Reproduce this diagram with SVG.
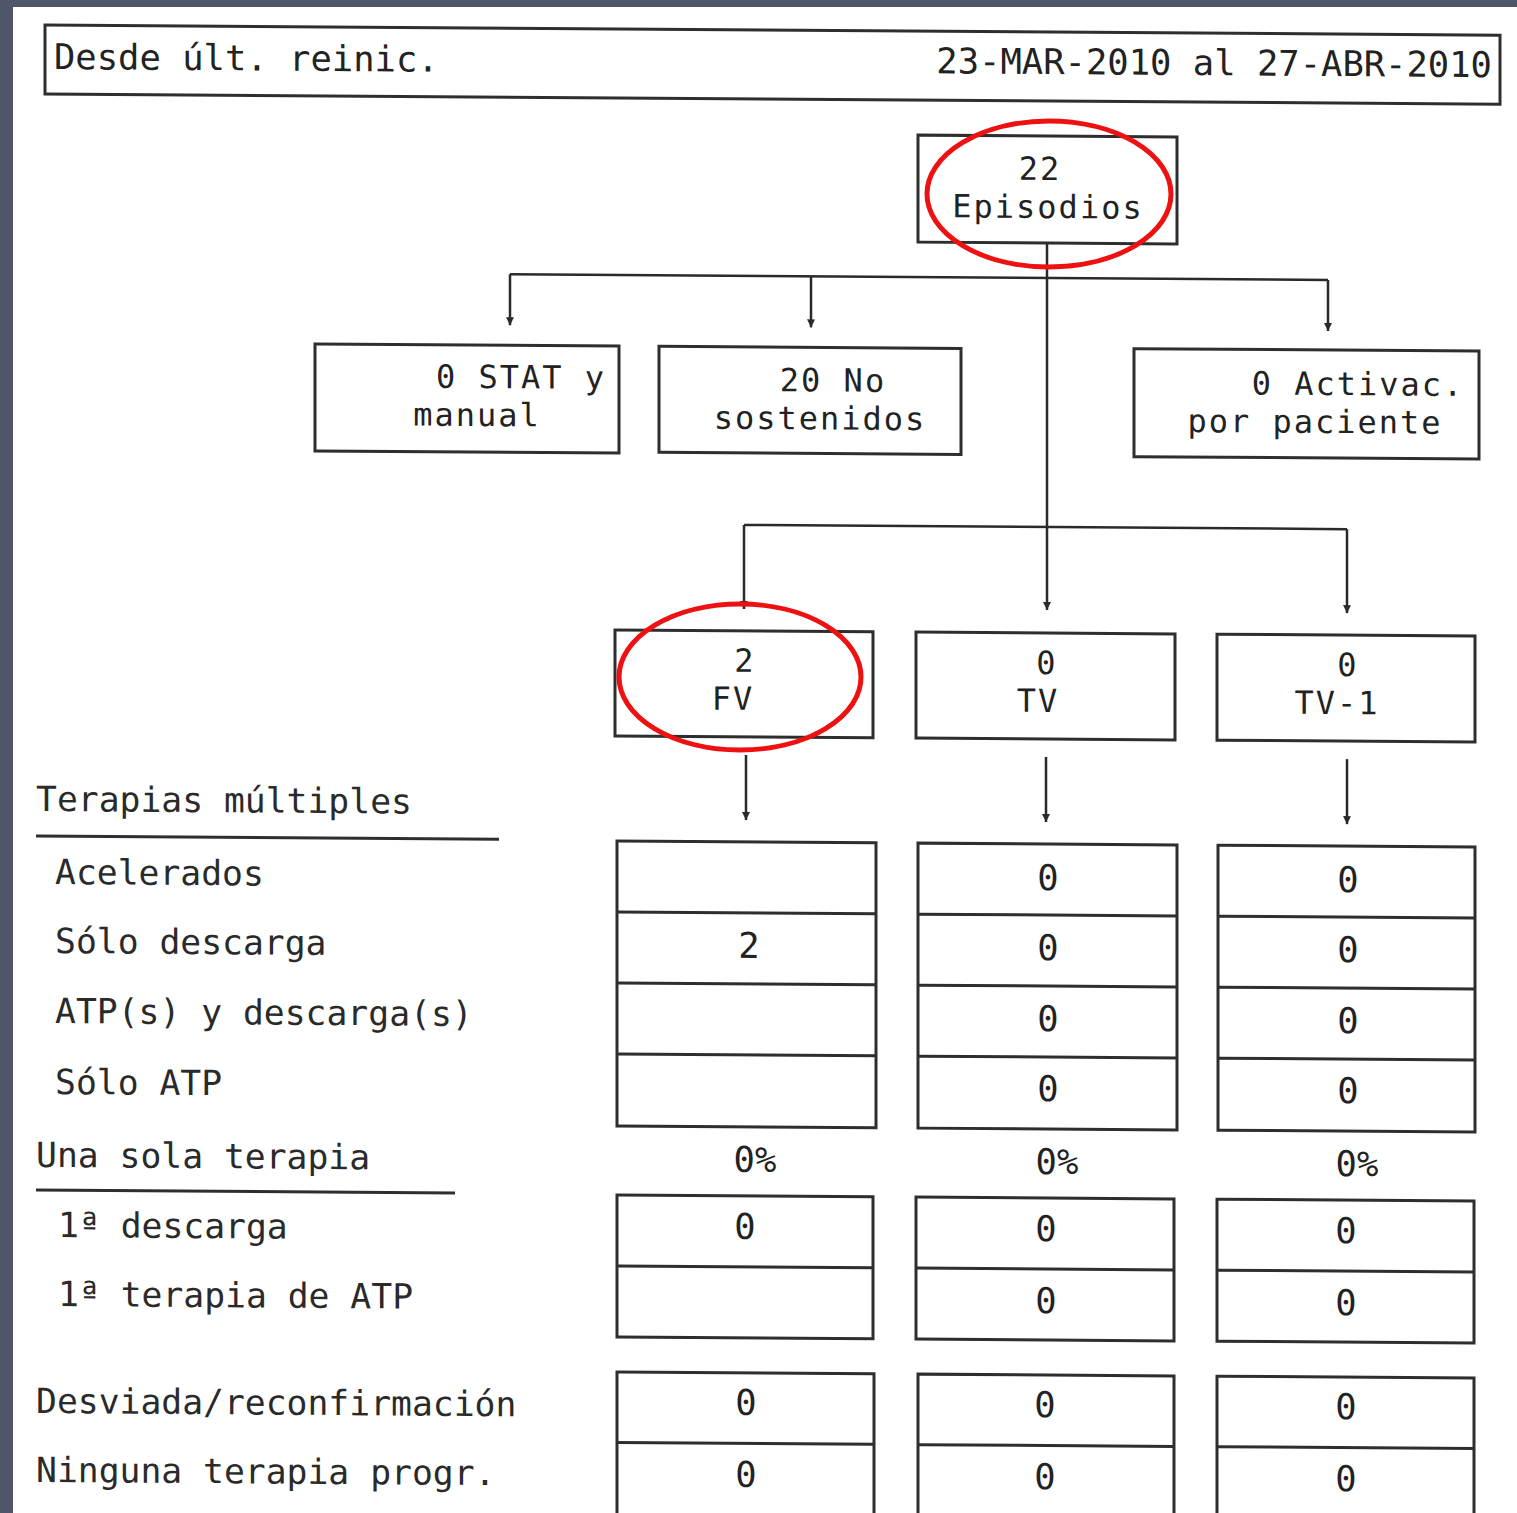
<svg xmlns="http://www.w3.org/2000/svg" width="1517" height="1513" viewBox="0 0 1517 1513">
<style>
.bx{fill:none;stroke:#2e2e2e;stroke-width:3}
.dv{stroke:#2e2e2e;stroke-width:3}
.cn{fill:none;stroke:#2a2a2a;stroke-width:2.5}
.t{font-family:"DejaVu Sans Mono","Liberation Mono",monospace;font-size:35.5px;fill:#222}
.n{font-family:"DejaVu Sans Mono","Liberation Mono",monospace;font-size:32px;letter-spacing:2px;fill:#222;text-anchor:middle}
.m{text-anchor:middle}
.e{text-anchor:end}
.lb{font-family:"DejaVu Sans Mono","Liberation Mono",monospace;font-size:34.7px;fill:#2a2a2a}
.ring{fill:none;stroke:#ee1111;stroke-width:5}
</style>
<defs>
<marker id="ah" viewBox="-1 -5 10 10" markerWidth="10" markerHeight="10" refX="8" refY="0" orient="auto" markerUnits="userSpaceOnUse">
<path d="M0,-4 L8,0 L0,4 z" fill="#2a2a2a"/>
</marker>
</defs>
<rect x="0" y="0" width="1517" height="1513" fill="#50566a"/>
<rect x="13" y="7" width="1504" height="1506" fill="#ffffff"/>
<g transform="matrix(1 0.007 0 1 0 -5.3)">
<g id="header">
<rect class="bx" x="45" y="30" width="1455" height="69"/>
<text class="t" x="54" y="74">Desde últ. reinic.</text>
<text class="t e" x="1492" y="72">23-MAR-2010 al 27-ABR-2010</text>
</g>
<g id="connectors">
<path class="cn" d="M1047,241 V608" marker-end="url(#ah)"/>
<path class="cn" d="M510,276 H1328"/>
<path class="cn" d="M510,276 V327" marker-end="url(#ah)"/>
<path class="cn" d="M811,276 V327" marker-end="url(#ah)"/>
<path class="cn" d="M1328,276 V327" marker-end="url(#ah)"/>
<path class="cn" d="M744,525 H1347"/>
<path class="cn" d="M744,525 V609" marker-end="url(#ah)"/>
<path class="cn" d="M1347,525 V609" marker-end="url(#ah)"/>
<path class="cn" d="M746,755 V820" marker-end="url(#ah)"/>
<path class="cn" d="M1046,755 V820" marker-end="url(#ah)"/>
<path class="cn" d="M1347,755 V820" marker-end="url(#ah)"/>
</g>
<g id="episodios">
<rect class="bx" x="918" y="134" width="259" height="107"/>
<text class="n" x="1040" y="178">22</text>
<text class="n" x="1048" y="216">Episodios</text>
</g>
<g id="stat-manual">
<rect class="bx" x="315" y="347" width="304" height="107"/>
<text class="n" x="521" y="390">0 STAT y</text>
<text class="n" x="477" y="428">manual</text>
</g>
<g id="no-sostenidos">
<rect class="bx" x="659" y="347" width="302" height="106"/>
<text class="n" x="833" y="391">20 No</text>
<text class="n" x="820" y="429">sostenidos</text>
</g>
<g id="activac-paciente">
<rect class="bx" x="1134" y="346" width="345" height="108"/>
<text class="n" x="1358" y="391">0 Activac.</text>
<text class="n" x="1315" y="429">por paciente</text>
</g>
<g id="fv">
<rect class="bx" x="615" y="631" width="258" height="106"/>
<text class="n" x="745" y="672">2</text>
<text class="n" x="733" y="710">FV</text>
</g>
<g id="tv">
<rect class="bx" x="916" y="631" width="259" height="106"/>
<text class="n" x="1047" y="672">0</text>
<text class="n" x="1038" y="710">TV</text>
</g>
<g id="tv1">
<rect class="bx" x="1217" y="631" width="258" height="106"/>
<text class="n" x="1348" y="672">0</text>
<text class="n" x="1337" y="710">TV-1</text>
</g>
<g id="labels">
<text class="lb" x="36" y="816">Terapias múltiples</text>
<line class="dv" x1="36" y1="841" x2="499" y2="841" stroke-width="2.5"/>
<text class="lb" x="55" y="889">Acelerados</text>
<text class="lb" x="55" y="958">Sólo descarga</text>
<text class="lb" x="55" y="1028">ATP(s) y descarga(s)</text>
<text class="lb" x="55" y="1099">Sólo ATP</text>
<text class="lb" x="36" y="1172">Una sola terapia</text>
<line class="dv" x1="36" y1="1195" x2="455" y2="1195" stroke-width="2.5"/>
<text class="lb" x="58" y="1242">1ª descarga</text>
<text class="lb" x="58" y="1311">1ª terapia de ATP</text>
<text class="lb" x="36" y="1418">Desviada/reconfirmación</text>
<text class="lb" x="36" y="1487">Ninguna terapia progr.</text>
</g>
<g id="fv-multiples">
<rect class="bx" x="617" y="842" width="259" height="285"/>
<path class="dv" d="M617,913 H876 M617,984 H876 M617,1055 H876"/>
<text class="t m" x="749" y="958">2</text>
</g>
<g id="tv-multiples">
<rect class="bx" x="918" y="842" width="259" height="285"/>
<path class="dv" d="M918,913 H1177 M918,984 H1177 M918,1055 H1177"/>
<text class="t m" x="1048" y="888">0</text>
<text class="t m" x="1048" y="958">0</text>
<text class="t m" x="1048" y="1029">0</text>
<text class="t m" x="1048" y="1099">0</text>
</g>
<g id="tv1-multiples">
<rect class="bx" x="1218" y="842" width="257" height="285"/>
<path class="dv" d="M1218,913 H1475 M1218,984 H1475 M1218,1055 H1475"/>
<text class="t m" x="1348" y="888">0</text>
<text class="t m" x="1348" y="958">0</text>
<text class="t m" x="1348" y="1029">0</text>
<text class="t m" x="1348" y="1099">0</text>
</g>
<g id="percent">
<text class="t m" x="755" y="1172">0%</text>
<text class="t m" x="1057" y="1172">0%</text>
<text class="t m" x="1357" y="1172">0%</text>
</g>
<g id="fv-una">
<rect class="bx" x="617" y="1196" width="256" height="142"/>
<path class="dv" d="M617,1267 H873"/>
<text class="t m" x="745" y="1239">0</text>
</g>
<g id="tv-una">
<rect class="bx" x="916" y="1196" width="258" height="142"/>
<path class="dv" d="M916,1267 H1174"/>
<text class="t m" x="1046" y="1239">0</text>
<text class="t m" x="1046" y="1311">0</text>
</g>
<g id="tv1-una">
<rect class="bx" x="1217" y="1196" width="257" height="142"/>
<path class="dv" d="M1217,1267 H1474"/>
<text class="t m" x="1346" y="1239">0</text>
<text class="t m" x="1346" y="1311">0</text>
</g>
<g id="fv-otros">
<rect class="bx" x="617" y="1373" width="257" height="152"/>
<path class="dv" d="M617,1443.5 H874"/>
<text class="t m" x="746" y="1415">0</text>
<text class="t m" x="746" y="1487">0</text>
</g>
<g id="tv-otros">
<rect class="bx" x="918" y="1373" width="256" height="152"/>
<path class="dv" d="M918,1443.5 H1174"/>
<text class="t m" x="1045" y="1415">0</text>
<text class="t m" x="1045" y="1487">0</text>
</g>
<g id="tv1-otros">
<rect class="bx" x="1217" y="1373" width="257" height="152"/>
<path class="dv" d="M1217,1443.5 H1474"/>
<text class="t m" x="1346" y="1415">0</text>
<text class="t m" x="1346" y="1487">0</text>
</g>
</g>
<g id="annotations">
<ellipse class="ring" cx="1049" cy="194" rx="122" ry="73"/>
<ellipse class="ring" cx="740" cy="677" rx="121" ry="73"/>
</g>
</svg>
